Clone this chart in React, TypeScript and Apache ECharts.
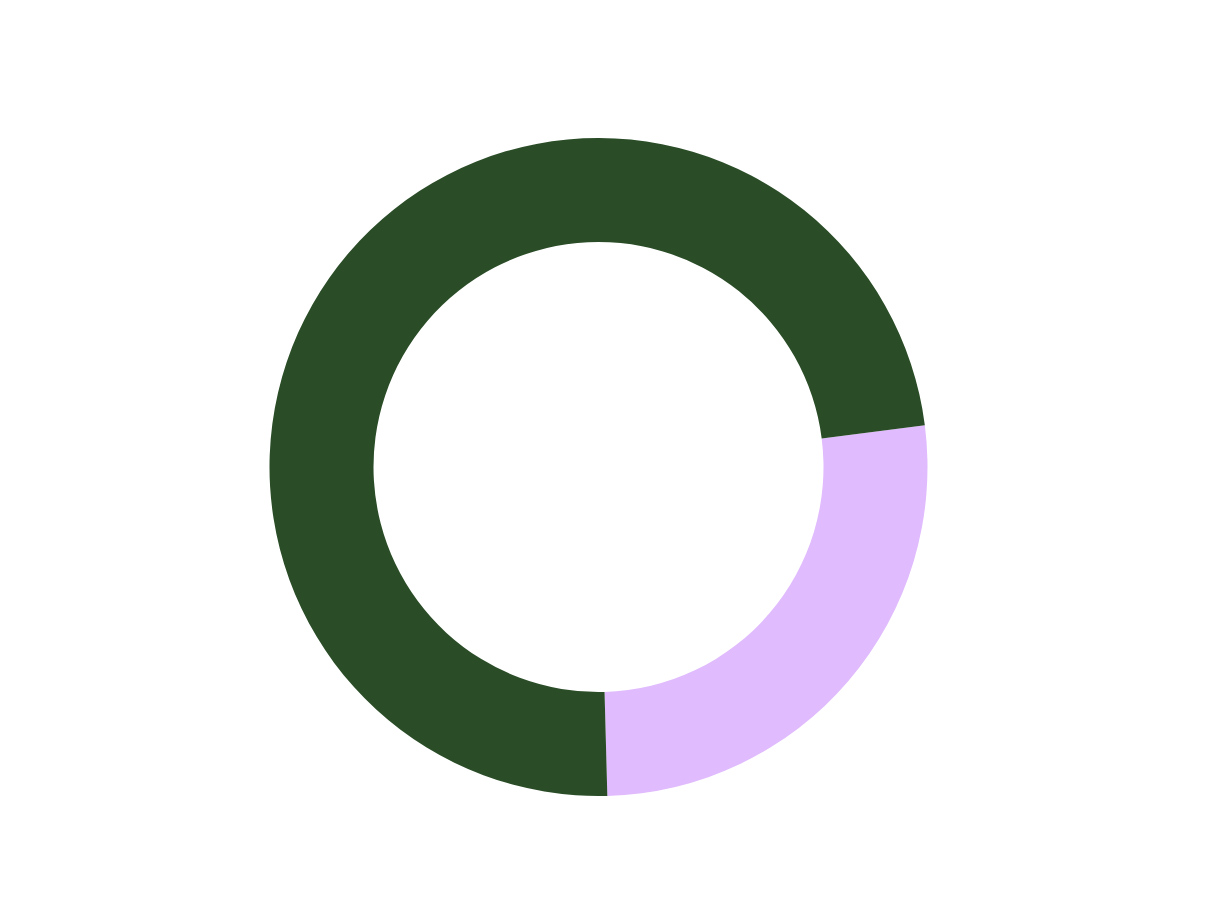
import { useEffect, useRef } from 'react';
import * as echarts from 'echarts';

// slice shares as they appear in the ring (purple reads a bit over a quarter)
const categories = ['Purple', 'Green'];
const values = [26.6, 73.4];
const colors = ['#e0bbfd', '#2a4d27'];

export default function App() {
  const chartRef = useRef<HTMLDivElement>(null);

  useEffect(() => {
    if (!chartRef.current) return;
    const chart = echarts.init(chartRef.current, null, { renderer: 'svg' });

    const data = categories.map((name, i) => ({
      name,
      value: values[i],
      itemStyle: { color: colors[i] },
    }));

    chart.setOption({
      animation: false,
      tooltip: { show: false },
      series: [
        {
          type: 'pie',
          center: [590.5, 459],
          radius: [225, 329],
          startAngle: 7.3,
          clockwise: true,
          label: { show: false },
          labelLine: { show: false },
          emphasis: { disabled: true },
          itemStyle: { borderWidth: 0 },
          data,
        },
      ],
    });

    return () => {
      chart.dispose();
    };
  }, []);

  return <div ref={chartRef} style={{ width: '100%', height: 905 }} />;
}
